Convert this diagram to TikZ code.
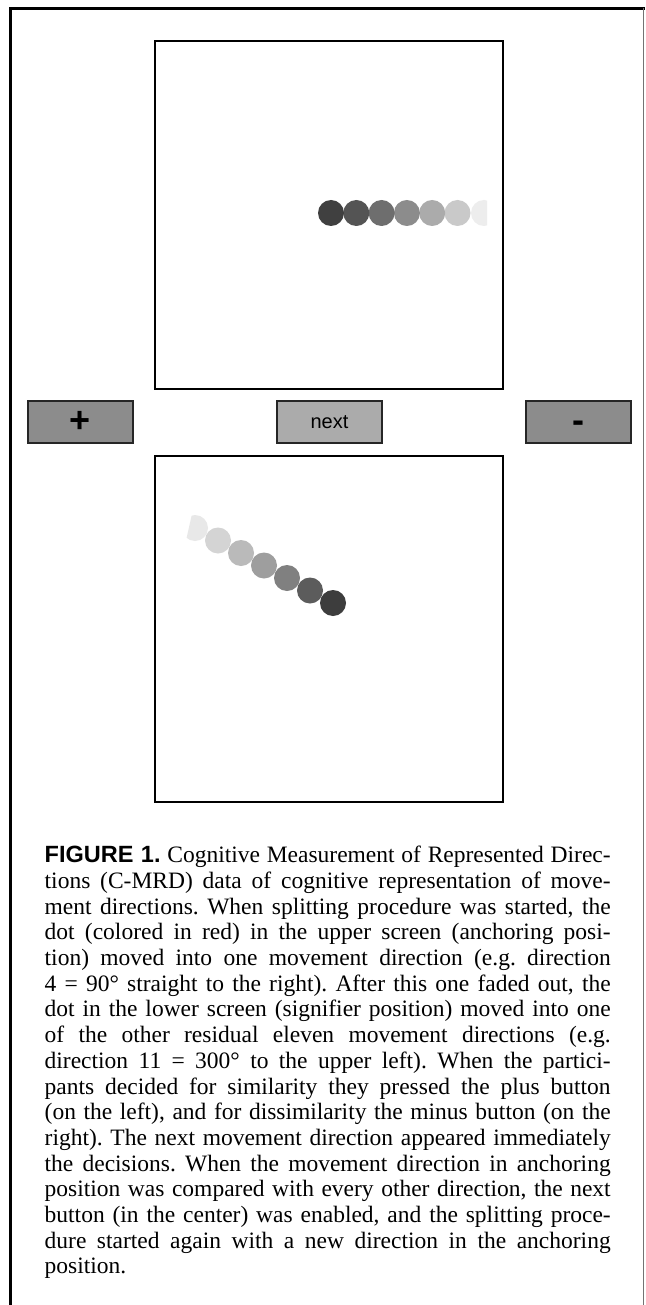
\documentclass[tikz,border=0pt]{standalone}
\usepackage{fontspec}
\setmainfont{Liberation Serif}
\setsansfont{Liberation Sans}
\begin{document}
\begin{tikzpicture}[x=1pt,y=-1pt,
  screen/.style={draw=black, line width=2.6pt, fill=white, inner sep=0pt, minimum width=348pt},
  button/.style={draw=black!85, line width=1.4pt, inner sep=0pt, minimum width=105pt, minimum height=42pt, font=\sffamily},
  pmbutton/.style={button, fill=black!45},
  nextbutton/.style={button, fill=black!33},
  caption/.style={anchor=north west, inner sep=0pt, text width=566pt, align=justify, font=\fontsize{23.5}{25.7}\selectfont\frenchspacing}
]
\useasboundingbox (0,0) rectangle (645,1305);
\fill[white] (0,0) rectangle (645,1305);
% outer frame
\draw[line width=3pt] (10.5,1305) -- (10.5,8.5) -- (645,8.5);
\draw[black!55, line width=1pt] (643.5,8.5) -- (643.5,1305);

% screens
\node[screen, minimum height=348pt] (upper) at (329,215) {};
\node[screen, minimum height=346pt] (lower) at (329,629) {};

% buttons
\node[pmbutton] (plus) at (80.5,422) {\fontsize{36}{36}\selectfont\bfseries +};
\node[nextbutton] (next) at (329.5,422) {\fontsize{20}{20}\selectfont next};
\node[pmbutton] (minus) at (578.5,422) {\fontsize{36}{36}\selectfont\bfseries\vphantom{+}-};

% upper dots (direction to the right)
\def\dotr{13}
\begin{scope}
  \clip (440,190) rectangle (487,240);
  \fill[black!7] (484,213) circle (\dotr);
\end{scope}
\fill[black!21] (457.5,213) circle (\dotr);
\fill[black!33] (432.2,213) circle (\dotr);
\fill[black!45] (406.9,213) circle (\dotr);
\fill[black!57] (381.6,213) circle (\dotr);
\fill[black!67] (356.3,213) circle (\dotr);
\fill[black!75] (331,213) circle (\dotr);

% lower dots (direction to the upper left)
\begin{scope}
  \clip (192,514) -- (215,514) -- (215,545) -- (185,545) -- cycle;
  \fill[black!9] (195,528) circle (\dotr);
\end{scope}
\fill[black!17] (218,540.5) circle (\dotr);
\fill[black!27] (241,553) circle (\dotr);
\fill[black!38] (264,565.5) circle (\dotr);
\fill[black!50] (287,578) circle (\dotr);
\fill[black!64] (310,590.5) circle (\dotr);
\fill[black!76] (333,603) circle (\dotr);

% caption
\node[caption] (cap) at (44.5,846) {{\sffamily\bfseries FIGURE 1.} Cognitive Measurement of Represented Direc-\linebreak
tions (C-MRD) data of cognitive representation of move-\linebreak
ment directions. When splitting procedure was started, the\linebreak
dot (colored in red) in the upper screen (anchoring posi-\linebreak
tion) moved into one movement direction (e.g. direction\linebreak
4 = 90° straight to the right). After this one faded out, the\linebreak
dot in the lower screen (signifier position) moved into one\linebreak
of the other residual eleven movement directions (e.g.\linebreak
direction 11 = 300° to the upper left). When the partici-\linebreak
pants decided for similarity they pressed the plus button\linebreak
(on the left), and for dissimilarity the minus button (on the\linebreak
right). The next movement direction appeared immediately\linebreak
the decisions. When the movement direction in anchoring\linebreak
position was compared with every other direction, the next\linebreak
button (in the center) was enabled, and the splitting proce-\linebreak
dure started again with a new direction in the anchoring\linebreak
position.};
\end{tikzpicture}
\end{document}
